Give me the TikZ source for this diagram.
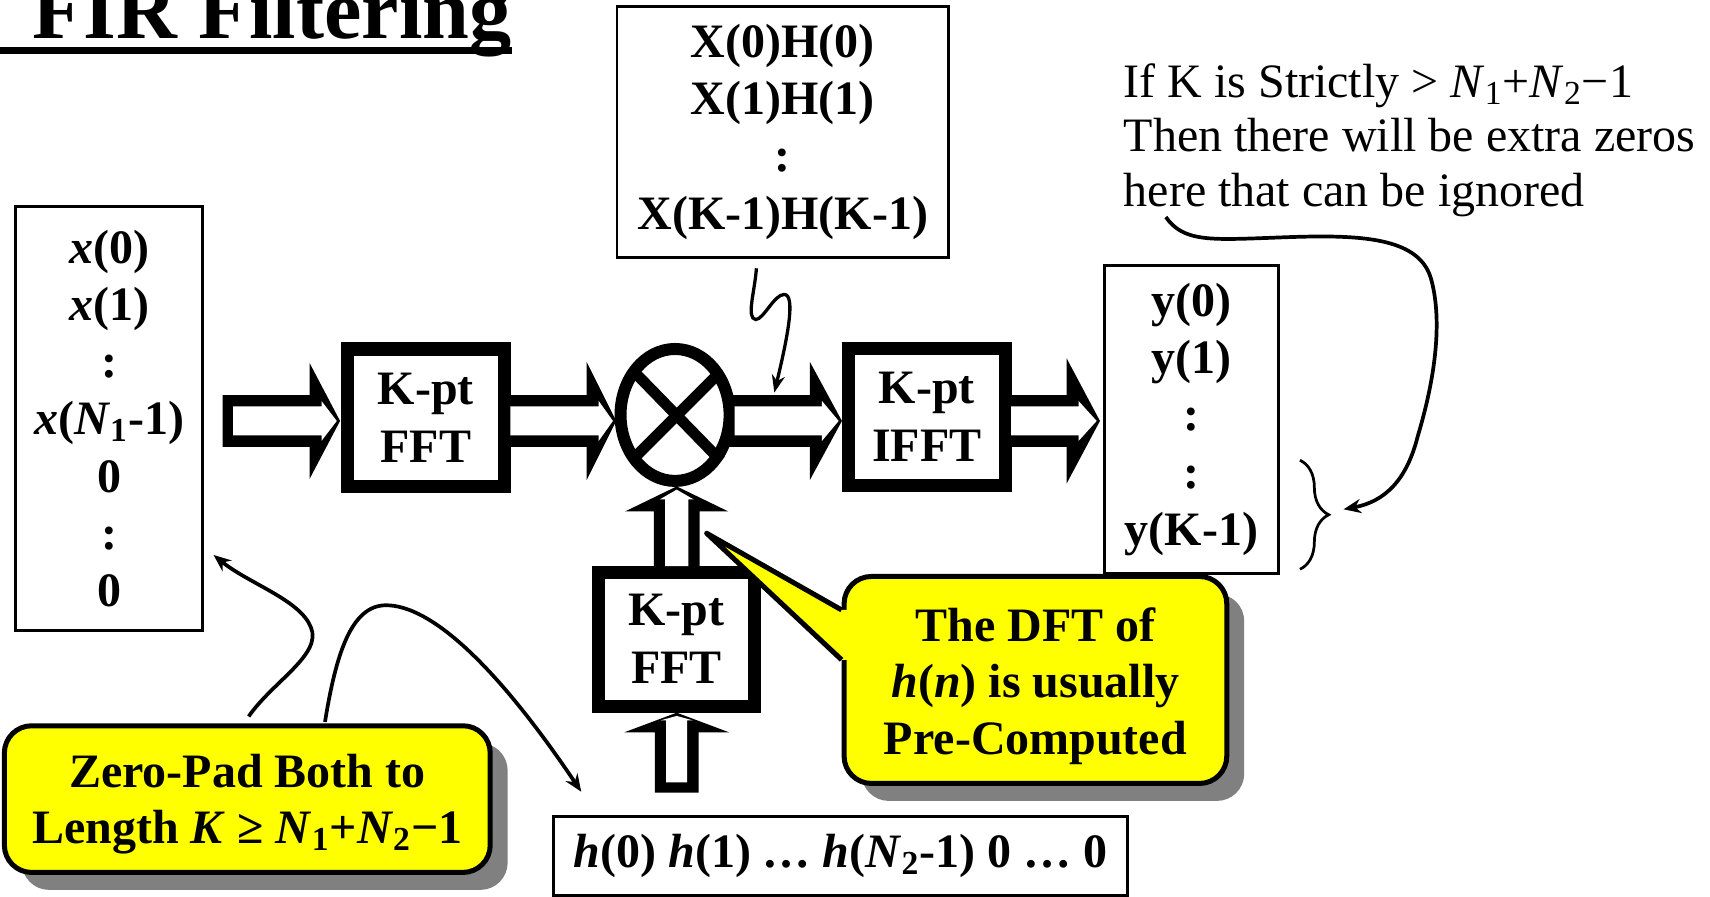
\documentclass[tikz,border=0pt]{standalone}
\usepackage{fontspec}
\setmainfont{Liberation Serif}
\usetikzlibrary{arrows.meta,calc,shapes.geometric,shadows,decorations.pathreplacing}

\definecolor{noteyellow}{RGB}{255,255,0}
\definecolor{shadowgray}{RGB}{128,128,128}

\tikzset{
  thinbox/.style={draw, line width=1.25pt, fill=white, inner sep=0pt, align=center,
    font=\fontsize{22}{26.25}\selectfont\bfseries},
  blockbox/.style={draw, line width=6pt, fill=white, inner sep=0pt, align=center,
    minimum width=71.9pt, minimum height=63pt, font=\fontsize{22}{26.5}\selectfont\bfseries},
  notebox/.style={draw, line width=2.3pt, fill=noteyellow, rounded corners=12.5pt,
    inner sep=0pt, align=center, font=\fontsize{22}{26}\selectfont\bfseries,
    drop shadow={shadow xshift=8pt, shadow yshift=-8pt, fill=shadowgray, opacity=1}},
  curvearrow/.style={line width=1.7pt, -{Stealth[length=8pt,width=6.5pt]}},
  pics/hollowarrow/.style args={#1/#2/#3/#4}{code={
    \fill (-#1,-#4) -- (-#2,-#4) -- (-#2,-#3) -- (0,0) -- (-#2,#3) -- (-#2,#4) -- (-#1,#4) -- cycle;
    \fill[white] (-#1+9.5,-#4+10.4) -- (-#2+11,-#4+10.4) -- (-#2+11,-#4+5.4) -- (-3,0)
      -- (-#2+11,#4-5.4) -- (-#2+11,#4-10.4) -- (-#1+9.5,#4-10.4) -- cycle;
  }}
}

\begin{document}
\begin{tikzpicture}[x=0.5pt,y=-0.5pt]
  \useasboundingbox (0,0) rectangle (1568,822);

  % title
  \node[anchor=base west, inner sep=0pt, font=\fontsize{38.6}{40}\selectfont\bfseries] (title) at (29,35) {FIR Filtering};
  \draw[line width=3pt] (0,46.5) -- (title.east |- 0,46.5);

  % sequences
  \node[thinbox, minimum width=152pt, minimum height=115pt] (prod) at (717.8,120.8)
    {X(0)H(0)\\X(1)H(1)\\:\\X(K-1)H(K-1)};
  \node[thinbox, minimum width=85.9pt, minimum height=194.5pt] (xseq) at (100,383.8)
    {\textit{x}(0)\\\textit{x}(1)\\:\\\textit{x}(\textit{N}\textsubscript{1}-1)\\0\\:\\0};
  \node[thinbox, minimum width=79.7pt, minimum height=141.25pt] (yseq) at (1092.5,384.5)
    {y(0)\\y(1)\\:\\:\\y(K-1)};
  \node[thinbox, minimum width=263pt, minimum height=36.4pt] (hseq) at (770.8,784.9)
    {\textit{h}(0) \textit{h}(1) … \textit{h}(\textit{N}\textsubscript{2}-1) 0 … 0};

  % blocks
  \node[blockbox] (fftx) at (390.5,383) {K-pt\\FFT};
  \node[blockbox] (ifft) at (849.9,382.2) {K-pt\\IFFT};
  \node[blockbox, minimum height=61.4pt] (ffth) at (620.3,586.1) {K-pt\\FFT};
  \node[draw, ellipse, line width=5.5pt, fill=white, minimum width=50pt, minimum height=60.5pt,
    inner sep=0pt] (mult) at (619,380.5) {};
  \draw[line width=5pt] ($(mult)+(-36,-38)$) -- ($(mult)+(42,42)$);
  \draw[line width=5pt] ($(mult)+(36,-34)$) -- ($(mult)+(-36,38)$);

  % block arrows
  \pic at (311.8,386) {hollowarrow=107.6/28/53.3/23.7};
  \pic at (565,386) {hollowarrow=106.6/27/54/23.7};
  \pic at (772,386) {hollowarrow=108/29.3/54/23.7};
  \pic at (1008.6,386) {hollowarrow=90.9/30.6/57.5/23.7};
  \pic[rotate=90] at (620.5,446) {hollowarrow=82.7/23/47.4/21};
  \pic[rotate=90] at (620.5,653.5) {hollowarrow=73.3/18/48/20};

  % products go into the IFFT
  \coordinate (sqstart) at (693.6,246);
  \coordinate (sqtip) at (710,360);
  \draw[line width=1.5pt, -{Stealth[length=8pt,width=6pt]}] (sqstart)
    .. controls (692,268) and (684,292) .. (693,293)
    .. controls (700,293) and (710,270) .. (719,270)
    .. controls (730,270) and (722,310) .. (sqtip);

  % extra zeros
  \node[anchor=north west, inner sep=0pt, align=left, font=\fontsize{22}{25}\selectfont] (extra) at (1030,58)
    {If K is Strictly > \textit{N}\textsubscript{1}+\textit{N}\textsubscript{2}−1\\Then there will be extra zeros\\here that can be ignored};
  \draw[line width=1.25pt, decorate, decoration={brace, amplitude=13.2pt}] (1192,422) -- (1192,522);
  \coordinate (herestart) at (1069,199);
  \coordinate (bracetip) at (1232,467);
  \draw[curvearrow] (herestart) .. controls (1085,222) and (1110,220) .. (1167,218)
    .. controls (1240,215) and (1300,215) .. (1312,255)
    .. controls (1322,290) and (1318,340) .. (1300,400)
    .. controls (1290,440) and (1270,460) .. (bracetip);

  % zero padding note
  \node[notebox, minimum width=222.75pt, minimum height=67.25pt] (padnote) at (226.75,732.75)
    {\rule{0pt}{20pt}Zero-Pad Both to\\Length \textit{K} ≥ \textit{N}\textsubscript{1}+\textit{N}\textsubscript{2}−1};
  \coordinate (padA) at (228,657);
  \coordinate (padB) at (298,662);
  \coordinate (xtip) at (195.8,508.9);
  \coordinate (htip) at (533,726);
  \draw[curvearrow] (padA) .. controls (250,625) and (296,600) .. (285,575)
    .. controls (275,550) and (228,535) .. (xtip);
  \draw[curvearrow] (padB) .. controls (308,600) and (322,555) .. (354,555)
    .. controls (395,555) and (455,610) .. (htip);

  % DFT note with pointer
  \coordinate (dfttip) at (648,489);
  \fill[shadowgray, shift={(16,16)}] (774,559.3) -- (dfttip) -- (774,605) -- cycle;
  \node[notebox, minimum width=175.45pt, minimum height=94.9pt] (dftnote) at (949.45,623.5)
    {\rule{0pt}{21pt}The DFT of\\\textit{h}(\textit{n}) is usually\\Pre-Computed};
  \fill[noteyellow] (dftnote.west |- 0,559.3) -- (dfttip) -- (dftnote.west |- 0,605) -- ++(12,0) -- ++(0,-45.7) -- cycle;
  \draw[line width=2.3pt, line join=round] (dftnote.west |- 0,559.3) -- (dfttip) -- (dftnote.west |- 0,605);
\end{tikzpicture}
\end{document}
